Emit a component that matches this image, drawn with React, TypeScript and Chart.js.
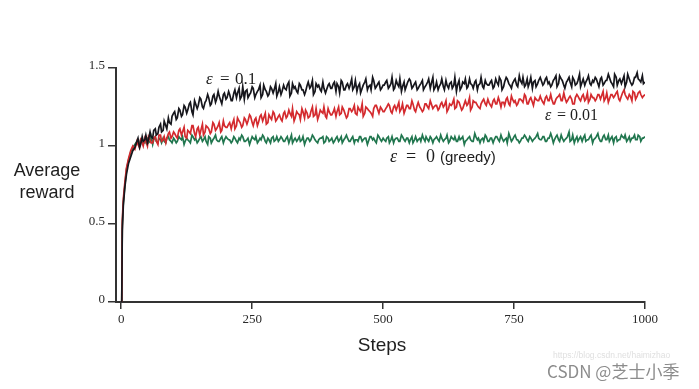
import React, { useEffect, useRef } from "react";
import { Chart, registerables } from "chart.js";

Chart.register(...registerables);

// x positions (steps), sample set A
const steps: number[] = [
  1, 2, 4, 7, 10, 14, 18, 22, 26,
  30, 35, 40, 45, 50, 55, 60, 65, 70, 75, 80, 85, 90, 95, 100,
  105, 110, 115, 120, 125, 130, 135, 140, 145, 150, 155, 160, 165, 170, 175, 180, 185, 190, 195, 200,
  205, 210, 215, 220, 225, 230, 235, 240, 245, 250, 255, 260, 265, 270, 275, 280, 285, 290, 295, 300,
  305, 310, 315, 320, 325, 330, 335, 340, 345, 350, 355, 360, 365, 370, 375, 380, 385, 390, 395, 400,
  405, 410, 415, 420, 425, 430, 435, 440, 445, 450, 455, 460, 465, 470, 475, 480, 485, 490, 495, 500,
  505, 510, 515, 520, 525, 530, 535, 540, 545, 550, 555, 560, 565, 570, 575, 580, 585, 590, 595, 600,
  605, 610, 615, 620, 625, 630, 635, 640, 645, 650, 655, 660, 665, 670, 675, 680, 685, 690, 695, 700,
  705, 710, 715, 720, 725, 730, 735, 740, 745, 750, 755, 760, 765, 770, 775, 780, 785, 790, 795, 800,
  805, 810, 815, 820, 825, 830, 835, 840, 845, 850, 855, 860, 865, 870, 875, 880, 885, 890, 895, 900,
  905, 910, 915, 920, 925, 930, 935, 940, 945, 950, 955, 960, 965, 970, 975, 980, 985, 990, 995, 1000,
];

// x positions (steps), sample set B (in between set A)
const stepsB: number[] = [
  32, 37, 42, 47, 52, 57, 62, 67, 72, 77, 82, 87, 92, 97,
  102, 107, 112, 117, 122, 127, 132, 137, 142, 147, 152, 157, 162, 167, 172, 177, 182, 187, 192, 197,
  202, 207, 212, 217, 222, 227, 232, 237, 242, 247, 252, 257, 262, 267, 272, 277, 282, 287, 292, 297,
  302, 307, 312, 317, 322, 327, 332, 337, 342, 347, 352, 357, 362, 367, 372, 377, 382, 387, 392, 397,
  402, 407, 412, 417, 422, 427, 432, 437, 442, 447, 452, 457, 462, 467, 472, 477, 482, 487, 492, 497,
  502, 507, 512, 517, 522, 527, 532, 537, 542, 547, 552, 557, 562, 567, 572, 577, 582, 587, 592, 597,
  602, 607, 612, 617, 622, 627, 632, 637, 642, 647, 652, 657, 662, 667, 672, 677, 682, 687, 692, 697,
  702, 707, 712, 717, 722, 727, 732, 737, 742, 747, 752, 757, 762, 767, 772, 777, 782, 787, 792, 797,
  802, 807, 812, 817, 822, 827, 832, 837, 842, 847, 852, 857, 862, 867, 872, 877, 882, 887, 892, 897,
  902, 907, 912, 917, 922, 927, 932, 937, 942, 947, 952, 957, 962, 967, 972, 977, 982, 987, 992, 997,
];

// epsilon = 0.1 (black), at steps
const eps01: number[] = [
  0.0, 0.46, 0.62, 0.74, 0.82, 0.89, 0.93, 0.97, 0.99,
  1.03, 0.99, 1.06, 1.04, 1.02, 1.09, 1.05, 1.11, 1.08, 1.14, 1.1, 1.13, 1.18, 1.14, 1.21,
  1.17, 1.24, 1.19, 1.26, 1.21, 1.27, 1.22, 1.29, 1.24, 1.31, 1.25, 1.28, 1.33, 1.26, 1.32, 1.28, 1.35, 1.29, 1.33, 1.3,
  1.35, 1.29, 1.34, 1.31, 1.37, 1.32, 1.3, 1.36, 1.33, 1.38, 1.31, 1.35, 1.39, 1.33, 1.36, 1.32, 1.38, 1.34, 1.4, 1.35,
  1.33, 1.39, 1.36, 1.41, 1.34, 1.37, 1.35, 1.4, 1.36, 1.33, 1.39, 1.37, 1.42, 1.35, 1.38, 1.36, 1.41, 1.34, 1.39, 1.37,
  1.4, 1.35, 1.38, 1.42, 1.36, 1.39, 1.37, 1.43, 1.38, 1.35, 1.4, 1.37, 1.41, 1.36, 1.39, 1.44, 1.37, 1.4, 1.36, 1.39,
  1.41, 1.37, 1.4, 1.36, 1.42, 1.38, 1.35, 1.41, 1.39, 1.43, 1.37, 1.4, 1.36, 1.39, 1.42, 1.38, 1.41, 1.37, 1.44, 1.38,
  1.36, 1.4, 1.38, 1.42, 1.37, 1.41, 1.39, 1.35, 1.42, 1.38, 1.4, 1.37, 1.43, 1.39, 1.41, 1.36, 1.4, 1.38, 1.42, 1.39,
  1.41, 1.37, 1.43, 1.39, 1.42, 1.38, 1.44, 1.4, 1.37, 1.42, 1.39, 1.45, 1.4, 1.38, 1.43, 1.41, 1.37, 1.42, 1.4, 1.44,
  1.39, 1.43, 1.4, 1.38, 1.42, 1.45, 1.4, 1.43, 1.39, 1.41, 1.44, 1.38, 1.42, 1.4, 1.46, 1.41, 1.39, 1.43, 1.4, 1.42,
  1.44, 1.4, 1.43, 1.39, 1.42, 1.46, 1.41, 1.38, 1.44, 1.42, 1.4, 1.45, 1.41, 1.43, 1.39, 1.44, 1.47, 1.42, 1.45, 1.41,
];
// epsilon = 0.1 (black), at stepsB
const eps01B: number[] = [
  1.05, 1.01, 1.03, 1.07, 1.04, 1.06, 1.1, 1.07, 1.12, 1.09, 1.16, 1.11, 1.15, 1.19,
  1.22, 1.18, 1.23, 1.2, 1.25, 1.23, 1.28, 1.2, 1.27, 1.26, 1.3, 1.24, 1.29, 1.31, 1.27, 1.33, 1.3, 1.32, 1.27, 1.34,
  1.31, 1.33, 1.29, 1.36, 1.34, 1.3, 1.38, 1.35, 1.31, 1.34, 1.37, 1.33, 1.36, 1.31, 1.39, 1.35, 1.33, 1.37, 1.36, 1.32,
  1.38, 1.35, 1.37, 1.39, 1.32, 1.4, 1.38, 1.34, 1.39, 1.36, 1.35, 1.41, 1.38, 1.33, 1.4, 1.39, 1.35, 1.37, 1.36, 1.4,
  1.37, 1.41, 1.4, 1.34, 1.41, 1.36, 1.4, 1.39, 1.36, 1.42, 1.38, 1.34, 1.39, 1.43, 1.38, 1.36, 1.42, 1.38, 1.41, 1.37,
  1.39, 1.42, 1.38, 1.44, 1.37, 1.4, 1.43, 1.38, 1.36, 1.41, 1.42, 1.38, 1.41, 1.37, 1.4, 1.36, 1.39, 1.43, 1.4, 1.36,
  1.41, 1.38, 1.43, 1.36, 1.39, 1.4, 1.37, 1.44, 1.39, 1.36, 1.41, 1.43, 1.38, 1.4, 1.37, 1.42, 1.39, 1.44, 1.37, 1.4,
  1.39, 1.42, 1.38, 1.41, 1.44, 1.36, 1.41, 1.43, 1.39, 1.4, 1.43, 1.38, 1.42, 1.44, 1.39, 1.38, 1.44, 1.41, 1.38, 1.42,
  1.42, 1.4, 1.44, 1.41, 1.39, 1.43, 1.38, 1.45, 1.42, 1.37, 1.42, 1.41, 1.44, 1.39, 1.42, 1.38, 1.43, 1.41, 1.45, 1.39,
  1.41, 1.43, 1.38, 1.44, 1.4, 1.42, 1.44, 1.4, 1.46, 1.39, 1.43, 1.42, 1.38, 1.46, 1.41, 1.4, 1.44, 1.43, 1.41, 1.4,
];

// epsilon = 0.01 (red), at steps
const eps001: number[] = [
  0.0, 0.52, 0.66, 0.77, 0.86, 0.92, 0.97, 1.0, 0.98,
  1.03, 0.99, 1.02, 1.05, 1.0, 1.04, 1.02, 1.06, 1.01, 1.07, 1.04, 1.02, 1.08, 1.05, 1.09,
  1.06, 1.1, 1.07, 1.12, 1.05, 1.09, 1.13, 1.08, 1.11, 1.07, 1.14, 1.09, 1.12, 1.08, 1.15, 1.1, 1.13, 1.09, 1.16, 1.12,
  1.14, 1.11, 1.17, 1.13, 1.16, 1.12, 1.18, 1.14, 1.2, 1.15, 1.17, 1.13, 1.19, 1.16, 1.21, 1.15, 1.18, 1.22, 1.16, 1.19,
  1.17, 1.21, 1.18, 1.23, 1.19, 1.16, 1.22, 1.2, 1.24, 1.18, 1.21, 1.19, 1.25, 1.2, 1.17, 1.23, 1.21, 1.19, 1.24, 1.2,
  1.22, 1.19, 1.25, 1.21, 1.23, 1.18, 1.24, 1.22, 1.26, 1.2, 1.23, 1.27, 1.21, 1.24, 1.22, 1.19, 1.26, 1.23, 1.25, 1.22,
  1.24, 1.27, 1.22, 1.25, 1.23, 1.28, 1.24, 1.21, 1.26, 1.24, 1.29, 1.23, 1.26, 1.25, 1.22, 1.27, 1.25, 1.29, 1.24, 1.26,
  1.23, 1.27, 1.25, 1.29, 1.24, 1.26, 1.3, 1.25, 1.28, 1.23, 1.27, 1.26, 1.31, 1.25, 1.28, 1.26, 1.24, 1.29, 1.27, 1.3,
  1.26, 1.29, 1.27, 1.31, 1.25, 1.28, 1.3, 1.27, 1.32, 1.28, 1.26, 1.3, 1.29, 1.33, 1.27, 1.3, 1.28, 1.31, 1.29, 1.32,
  1.28, 1.31, 1.29, 1.33, 1.27, 1.3, 1.32, 1.29, 1.34, 1.28, 1.31, 1.3, 1.27, 1.33, 1.3, 1.32, 1.29, 1.34, 1.3, 1.31,
  1.29, 1.33, 1.3, 1.35, 1.31, 1.28, 1.33, 1.31, 1.34, 1.3, 1.32, 1.36, 1.31, 1.33, 1.29, 1.34, 1.32, 1.35, 1.31, 1.33,
];
// epsilon = 0.01 (red), at stepsB
const eps001B: number[] = [
  1.01, 1.04, 1.0, 1.03, 1.06, 1.02, 1.05, 1.03, 1.07, 1.03, 1.06, 1.05, 1.09, 1.06,
  1.08, 1.05, 1.11, 1.09, 1.06, 1.1, 1.08, 1.13, 1.06, 1.12, 1.1, 1.07, 1.13, 1.11, 1.09, 1.14, 1.11, 1.15, 1.1, 1.13,
  1.12, 1.15, 1.14, 1.11, 1.18, 1.15, 1.13, 1.17, 1.16, 1.19, 1.13, 1.18, 1.15, 1.2, 1.18, 1.14, 1.2, 1.17, 1.21, 1.17,
  1.2, 1.16, 1.22, 1.19, 1.21, 1.24, 1.18, 1.21, 1.17, 1.22, 1.23, 1.18, 1.22, 1.19, 1.24, 1.19, 1.22, 1.25, 1.18, 1.22,
  1.2, 1.24, 1.22, 1.2, 1.25, 1.21, 1.19, 1.24, 1.23, 1.21, 1.25, 1.22, 1.19, 1.25, 1.23, 1.21, 1.24, 1.26, 1.21, 1.24,
  1.22, 1.25, 1.26, 1.21, 1.26, 1.25, 1.22, 1.27, 1.23, 1.26, 1.24, 1.27, 1.22, 1.28, 1.24, 1.23, 1.27, 1.24, 1.27, 1.25,
  1.26, 1.24, 1.28, 1.26, 1.22, 1.27, 1.27, 1.24, 1.29, 1.26, 1.24, 1.29, 1.27, 1.23, 1.29, 1.28, 1.25, 1.27, 1.3, 1.26,
  1.28, 1.25, 1.3, 1.27, 1.29, 1.28, 1.26, 1.31, 1.26, 1.3, 1.29, 1.27, 1.3, 1.28, 1.32, 1.27, 1.31, 1.26, 1.3, 1.29,
  1.3, 1.27, 1.32, 1.29, 1.3, 1.27, 1.31, 1.33, 1.29, 1.31, 1.29, 1.32, 1.27, 1.31, 1.32, 1.29, 1.33, 1.3, 1.28, 1.33,
  1.31, 1.3, 1.33, 1.32, 1.29, 1.34, 1.3, 1.33, 1.32, 1.35, 1.29, 1.34, 1.33, 1.3, 1.32, 1.35, 1.3, 1.34, 1.33, 1.32,
];

// epsilon = 0, greedy (green), at steps
const eps0: number[] = [
  0.0, 0.49, 0.64, 0.75, 0.85, 0.91, 0.96, 0.99, 1.01,
  1.03, 1.01, 1.04, 1.02, 1.05, 1.03, 1.01, 1.06, 1.02, 1.04, 1.05, 1.02, 1.06, 1.03, 1.05,
  1.02, 1.06, 1.04, 1.01, 1.05, 1.03, 1.07, 1.04, 1.02, 1.05, 1.03, 1.06, 1.01, 1.05, 1.04, 1.07, 1.03, 1.05, 1.02, 1.06,
  1.04, 1.02, 1.06, 1.03, 1.05, 1.07, 1.03, 1.04, 1.01, 1.06, 1.04, 1.02, 1.05, 1.07, 1.03, 1.05, 1.02, 1.06, 1.04, 1.03,
  1.06, 1.03, 1.05, 1.02, 1.07, 1.04, 1.03, 1.06, 1.04, 1.01, 1.05, 1.03, 1.07, 1.04, 1.02, 1.05, 1.06, 1.03, 1.05, 1.04,
  1.02, 1.05, 1.03, 1.06, 1.04, 1.07, 1.03, 1.05, 1.02, 1.04, 1.06, 1.03, 1.05, 1.01, 1.06, 1.04, 1.03, 1.07, 1.04, 1.05,
  1.03, 1.06, 1.04, 1.02, 1.05, 1.03, 1.07, 1.04, 1.05, 1.02, 1.06, 1.04, 1.03, 1.05, 1.07, 1.03, 1.04, 1.06, 1.02, 1.05,
  1.04, 1.07, 1.03, 1.05, 1.02, 1.06, 1.04, 1.03, 1.06, 1.05, 1.01, 1.04, 1.06, 1.03, 1.08, 1.04, 1.02, 1.05, 1.07, 1.03,
  1.05, 1.02, 1.06, 1.04, 1.07, 1.03, 1.05, 1.08, 1.03, 1.06, 1.04, 1.02, 1.05, 1.07, 1.04, 1.06, 1.03, 1.05, 1.08, 1.04,
  1.06, 1.03, 1.05, 1.08, 1.02, 1.06, 1.04, 1.07, 1.03, 1.05, 1.09, 1.04, 1.02, 1.06, 1.05, 1.03, 1.07, 1.04, 1.06, 1.02,
  1.05, 1.08, 1.03, 1.06, 1.04, 1.07, 1.05, 1.02, 1.06, 1.04, 1.07, 1.05, 1.03, 1.06, 1.05, 1.07, 1.04, 1.06, 1.05, 1.06,
];
// epsilon = 0, greedy (green), at stepsB
const eps0B: number[] = [
  1.02, 1.04, 1.03, 1.05, 1.02, 1.06, 1.04, 1.03, 1.05, 1.02, 1.03, 1.05, 1.04, 1.02,
  1.04, 1.03, 1.05, 1.06, 1.03, 1.04, 1.02, 1.06, 1.05, 1.03, 1.06, 1.04, 1.03, 1.06, 1.02, 1.05, 1.04, 1.03, 1.06, 1.04,
  1.05, 1.04, 1.03, 1.05, 1.02, 1.04, 1.06, 1.03, 1.05, 1.03, 1.05, 1.06, 1.03, 1.04, 1.06, 1.02, 1.04, 1.05, 1.03, 1.06,
  1.04, 1.05, 1.03, 1.06, 1.04, 1.02, 1.05, 1.04, 1.03, 1.06, 1.03, 1.05, 1.04, 1.06, 1.03, 1.04, 1.05, 1.02, 1.06, 1.03,
  1.05, 1.03, 1.06, 1.04, 1.02, 1.05, 1.05, 1.03, 1.06, 1.04, 1.03, 1.06, 1.04, 1.05, 1.03, 1.06, 1.05, 1.02, 1.06, 1.03,
  1.04, 1.05, 1.02, 1.06, 1.04, 1.05, 1.03, 1.06, 1.03, 1.05, 1.04, 1.02, 1.06, 1.04, 1.03, 1.05, 1.06, 1.03, 1.05, 1.04,
  1.06, 1.03, 1.05, 1.04, 1.07, 1.03, 1.05, 1.06, 1.03, 1.04, 1.06, 1.03, 1.05, 1.04, 1.03, 1.06, 1.05, 1.04, 1.03, 1.06,
  1.03, 1.05, 1.04, 1.06, 1.03, 1.05, 1.04, 1.02, 1.06, 1.04, 1.07, 1.04, 1.03, 1.05, 1.06, 1.03, 1.05, 1.04, 1.06, 1.05,
  1.04, 1.06, 1.03, 1.05, 1.06, 1.04, 1.07, 1.03, 1.05, 1.04, 1.06, 1.03, 1.07, 1.04, 1.03, 1.06, 1.05, 1.03, 1.04, 1.07,
  1.04, 1.06, 1.05, 1.03, 1.07, 1.04, 1.03, 1.06, 1.05, 1.03, 1.04, 1.06, 1.07, 1.04, 1.03, 1.05, 1.04, 1.07, 1.03, 1.05,
];

const xTicks: number[] = [0, 250, 500, 750, 1000];
const yTicks: number[] = [0, 0.5, 1, 1.5];

const W = 699;
const H = 389;
const AREA = { left: 116, right: 645, top: 68, bottom: 302 };

const SERIF = '"Liberation Serif", "Times New Roman", serif';
const SANS = '"Liberation Sans", Arial, Helvetica, sans-serif';

function toXY(a: number[], b: number[]) {
  const pts = steps.map((s, i) => ({ x: s, y: a[i] }));
  stepsB.forEach((s, i) => pts.push({ x: s, y: b[i] }));
  pts.sort((p, q) => p.x - q.x);
  return pts;
}

// draws "ε = value" with math-like spacing
function drawEps(
  ctx: CanvasRenderingContext2D,
  x: number,
  y: number,
  size: number,
  value: string,
  eqOff: number,
  valOff: number
) {
  ctx.font = `italic ${size}px ${SERIF}`;
  ctx.fillText("ε", x, y);
  ctx.font = `${size}px ${SERIF}`;
  ctx.fillText("=", x + eqOff, y);
  ctx.fillText(value, x + valOff, y);
}

const textPlugin = {
  id: "annotations",
  afterDraw(chart: any) {
    const ctx: CanvasRenderingContext2D = chart.ctx;
    ctx.save();
    ctx.fillStyle = "#1e1e1e";
    ctx.textBaseline = "alphabetic";
    // y-axis title (horizontal)
    ctx.textAlign = "center";
    ctx.font = `18px ${SANS}`;
    ctx.fillText("Average", 47, 176);
    ctx.fillText("reward", 47, 198);
    // x-axis title
    ctx.font = `19px ${SANS}`;
    ctx.fillText("Steps", 382, 351);
    // series labels
    ctx.textAlign = "left";
    drawEps(ctx, 206, 84, 17, "0.1", 14, 29);
    drawEps(ctx, 545, 120, 16, "0.01", 12, 25);
    drawEps(ctx, 390, 162, 18, "0", 16, 36);
    ctx.font = `15px ${SANS}`;
    ctx.fillText("(greedy)", 440, 162);
    // watermarks
    ctx.fillStyle = "#e0e0e0";
    ctx.font = `8.5px ${SANS}`;
    ctx.fillText("https://blog.csdn.net/haimizhao", 553, 358);
    ctx.fillStyle = "#8c8c8c";
    ctx.font = `17px "Noto Sans CJK SC", ${SANS}`;
    ctx.fillText("CSDN @芝士小季", 547, 378);
    ctx.restore();
  },
};

export default function App() {
  const ref = useRef<HTMLCanvasElement | null>(null);

  useEffect(() => {
    if (!ref.current) return;
    const common = { pointRadius: 0, tension: 0, borderWidth: 1.7, borderJoinStyle: "miter" as const };
    const chart = new Chart(ref.current, {
      type: "line",
      data: {
        datasets: [
          { label: "ε = 0.1", data: toXY(eps01, eps01B), borderColor: "rgb(22,22,28)", order: 0, ...common },
          { label: "ε = 0.01", data: toXY(eps001, eps001B), borderColor: "rgb(212,42,46)", order: 1, ...common },
          { label: "ε = 0 (greedy)", data: toXY(eps0, eps0B), borderColor: "rgb(32,118,78)", order: 2, ...common },
        ],
      },
      options: {
        responsive: false,
        animation: false,
        devicePixelRatio: 1,
        parsing: false,
        layout: {
          padding: { left: 0, top: AREA.top, right: W - AREA.right, bottom: 0 },
        },
        plugins: {
          legend: { display: false },
          tooltip: { enabled: false },
          title: { display: false },
        },
        scales: {
          x: {
            type: "linear",
            min: -10,
            max: 1000,
            afterFit: (s: any) => {
              s.height = H - AREA.bottom;
            },
            afterBuildTicks: (s: any) => {
              s.ticks = xTicks.map((v) => ({ value: v }));
            },
            ticks: {
              autoSkip: false,
              maxRotation: 0,
              padding: 3,
              color: "#2a2a2a",
              font: { family: SERIF, size: 13 },
              callback: (v: any) => String(v),
            },
            grid: {
              drawOnChartArea: false,
              drawTicks: true,
              tickLength: 7,
              color: "#333",
              lineWidth: 1.5,
            },
            border: { display: true, color: "#333", width: 2 },
            title: { display: false },
          },
          y: {
            type: "linear",
            min: 0,
            max: 1.5,
            afterFit: (s: any) => {
              s.width = AREA.left;
            },
            afterBuildTicks: (s: any) => {
              s.ticks = yTicks.map((v) => ({ value: v }));
            },
            ticks: {
              autoSkip: false,
              padding: 3,
              labelOffset: -2,
              color: "#2a2a2a",
              font: { family: SERIF, size: 13 },
              callback: (v: any) => String(v),
            },
            grid: {
              drawOnChartArea: false,
              drawTicks: true,
              tickLength: 8,
              color: "#333",
              lineWidth: 1.5,
            },
            border: { display: true, color: "#333", width: 2 },
            title: { display: false },
          },
        },
      },
      plugins: [textPlugin],
    });
    return () => chart.destroy();
  }, []);

  return (
    <div style={{ position: "fixed", left: 0, top: 0, width: W, height: H, background: "#fff" }}>
      <canvas ref={ref} width={W} height={H} style={{ display: "block", width: W, height: H }} />
    </div>
  );
}
